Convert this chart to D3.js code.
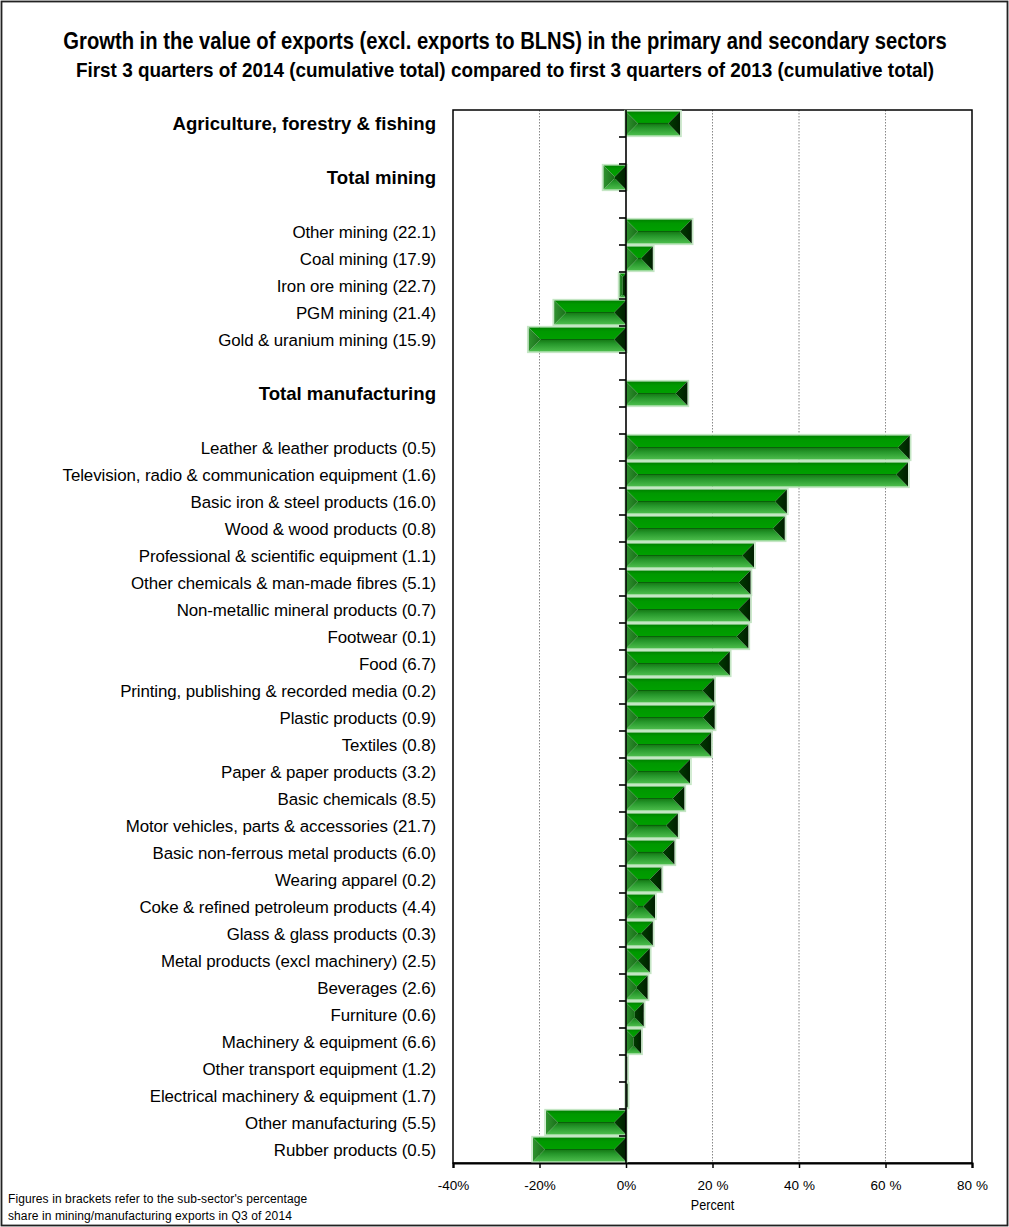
<!DOCTYPE html>
<html><head><meta charset="utf-8">
<script src="https://cdn.jsdelivr.net/npm/d3@7"></script>
<style>body{margin:0;background:#fff}</style>
</head><body><svg id="c" width="1009" height="1227"></svg>
<script>
// ---- data ----
const categories = [
  "Agriculture, forestry & fishing", "",
  "Total mining", "",
  "Other mining (22.1)", "Coal mining (17.9)", "Iron ore mining (22.7)", "PGM mining (21.4)", "Gold & uranium mining (15.9)", "",
  "Total manufacturing", "",
  "Leather & leather products (0.5)",
  "Television, radio & communication equipment (1.6)",
  "Basic iron & steel products (16.0)",
  "Wood & wood products (0.8)",
  "Professional & scientific equipment (1.1)",
  "Other chemicals & man-made fibres (5.1)",
  "Non-metallic mineral products (0.7)",
  "Footwear (0.1)",
  "Food (6.7)",
  "Printing, publishing & recorded media (0.2)",
  "Plastic products (0.9)",
  "Textiles (0.8)",
  "Paper & paper products (3.2)",
  "Basic chemicals (8.5)",
  "Motor vehicles, parts & accessories (21.7)",
  "Basic non-ferrous metal products (6.0)",
  "Wearing apparel (0.2)",
  "Coke & refined petroleum products (4.4)",
  "Glass & glass products (0.3)",
  "Metal products (excl machinery) (2.5)",
  "Beverages (2.6)",
  "Furniture (0.6)",
  "Machinery & equipment (6.6)",
  "Other transport equipment (1.2)",
  "Electrical machinery & equipment (1.7)",
  "Other manufacturing (5.5)",
  "Rubber products (0.5)"
];
const growth = [
  12.5, null,
  -5.2, null,
  15.2, 6.2, -1.5, -16.6, -22.5, null,
  14.2, null,
  65.6, 65.2, 37.2, 36.7, 29.6, 28.8, 28.7, 28.3, 24.0, 20.4, 20.5, 19.7,
  14.8, 13.5, 12.0, 11.2, 8.2, 6.7, 6.2, 5.5, 5.0, 4.1, 3.5, 0.3, 0.4,
  -18.5, -21.5
];
const boldCategories = ["Agriculture, forestry & fishing", "Total mining", "Total manufacturing"];
const xTickValues = [-40, -20, 0, 20, 40, 60, 80];
const xTickLabels = ["-40%", "-20%", "0%", "20 %", "40 %", "60 %", "80 %"];
const gridValues = [-20, 20, 40, 60];
const titleText = "Growth in the value of exports (excl. exports to BLNS) in the primary and secondary sectors";
const subtitleText = "First 3 quarters of 2014 (cumulative total) compared to first 3 quarters of 2013 (cumulative total)";
const xAxisTitle = "Percent";
const footnoteLines = ["Figures in brackets refer to the sub-sector's percentage", "share in mining/manufacturing exports in Q3 of 2014"];

// ---- layout ----
const W = 1009, H = 1227;
const plot = {left: 453, right: 972, top: 110, bottom: 1163};
const FONT = "'Liberation Sans',Arial,sans-serif";
const svg = d3.select("#c");
const keys = categories.map((c, i) => i + "|" + c);
const rows = keys.map((k, i) => ({key: k, label: categories[i], v: growth[i]}));

const x = d3.scaleLinear().domain([-40, 80]).range([plot.left, plot.right]);
const y = d3.scaleBand().domain(keys).range([plot.top, plot.bottom]).paddingInner(0.12).paddingOuter(0.06);

// outer border
svg.append("rect").attr("x", 1.5).attr("y", 1.5).attr("width", W - 3).attr("height", H - 3)
  .attr("fill", "#fff").attr("stroke", "#222").attr("stroke-width", 1.8);

// condensed text helper
function ctext(parent, tx, ty, sx, txt) {
  return parent.append("g").attr("transform", `translate(${tx},${ty}) scale(${sx},1)`)
    .append("text").attr("x", 0).attr("y", 0).attr("font-family", FONT).attr("fill", "#000").text(txt);
}

// titles
ctext(svg, 505, 49, 0.86, titleText).attr("text-anchor", "middle").attr("font-weight", "bold").attr("font-size", 23.5);
ctext(svg, 505, 77, 0.98, subtitleText).attr("text-anchor", "middle").attr("font-weight", "bold").attr("font-size", 19.3);

// gridlines
svg.append("g").selectAll("line").data(gridValues).join("line")
  .attr("x1", d => x(d)).attr("x2", d => x(d)).attr("y1", plot.top).attr("y2", plot.bottom)
  .attr("stroke", "#888").attr("stroke-width", 1).attr("stroke-dasharray", "1.5,1.5");

// plot frame
svg.append("rect").attr("x", plot.left).attr("y", plot.top)
  .attr("width", plot.right - plot.left).attr("height", plot.bottom - plot.top)
  .attr("fill", "none").attr("stroke", "#000").attr("stroke-width", 1.5);

// gradients
const defs = svg.append("defs");
function grad(id, stops, vertical) {
  const g = defs.append("linearGradient").attr("id", id)
    .attr("x1", 0).attr("y1", 0).attr("x2", vertical ? 0 : 1).attr("y2", vertical ? 1 : 0);
  stops.forEach(s => g.append("stop").attr("offset", s[0]).attr("stop-color", s[1]));
}
grad("gTop", [[0, "#008200"], [0.3, "#009800"], [1, "#00a000"]], true);
grad("gBot", [[0, "#147814"], [0.35, "#25962a"], [1, "#4cbd4c"]], true);
grad("gLeft", [[0, "#2f922f"], [1, "#187018"]], false);
grad("gRight", [[0, "#003c00"], [1, "#002000"]], false);

// bars with bevel
const barG = svg.append("g");
rows.filter(r => r.v !== null).forEach(r => {
  const x0 = Math.min(x(0), x(r.v)), x1 = Math.max(x(0), x(r.v));
  const y0 = y(r.key), y1 = y0 + y.bandwidth();
  const w = x1 - x0, h = y1 - y0;
  const d = Math.min(h / 2, w / 2);
  const g = barG.append("g");
  g.append("rect").attr("x", x0 - 1).attr("y", y0 - 1).attr("width", w + 2).attr("height", h + 2)
    .attr("fill", "none").attr("stroke", "#c4e6c4").attr("stroke-width", 1.5);
  const poly = pts => g.append("polygon").attr("points", pts.map(p => p.join(",")).join(" "));
  poly([[x0, y0], [x1, y0], [x1 - d, y0 + d], [x0 + d, y0 + d]]).attr("fill", "url(#gTop)");
  poly([[x0, y1], [x1, y1], [x1 - d, y1 - d], [x0 + d, y1 - d]]).attr("fill", "url(#gBot)");
  poly([[x0, y0], [x0 + d, y0 + d], [x0 + d, y1 - d], [x0, y1]]).attr("fill", "url(#gLeft)");
  poly([[x1, y0], [x1 - d, y0 + d], [x1 - d, y1 - d], [x1, y1]]).attr("fill", "url(#gRight)");
  if (w > h) {
    g.append("line").attr("x1", x0 + d).attr("x2", x1 - d).attr("y1", (y0 + y1) / 2).attr("y2", (y0 + y1) / 2)
      .attr("stroke", "#0b600b").attr("stroke-width", 1.2);
  }
});

// zero line with category ticks
svg.append("line").attr("x1", x(0)).attr("x2", x(0)).attr("y1", plot.top).attr("y2", plot.bottom)
  .attr("stroke", "#000").attr("stroke-width", 1.6);
svg.append("g").selectAll("line").data(keys.slice(1)).join("line")
  .attr("x1", x(0) - 7).attr("x2", x(0))
  .attr("y1", d => y(d) - y.step() * y.paddingInner() / 2).attr("y2", d => y(d) - y.step() * y.paddingInner() / 2)
  .attr("stroke", "#000").attr("stroke-width", 1.6);

// bottom axis
const xAxis = d3.axisBottom(x).tickValues(xTickValues).tickSize(5).tickPadding(12).tickFormat((d, i) => xTickLabels[i]);
const ax = svg.append("g").attr("transform", `translate(0,${plot.bottom})`).call(xAxis);
ax.select(".domain").attr("stroke", "#000").attr("stroke-width", 2.2);
ax.selectAll(".tick line").attr("stroke", "#000").attr("stroke-width", 1.5);
ax.selectAll(".tick text").attr("font-family", FONT).attr("font-size", 13.5).attr("fill", "#000");
ctext(svg, x(20), plot.bottom + 47, 0.9, xAxisTitle).attr("text-anchor", "middle").attr("font-size", 14);

// category labels
const labG = svg.append("g");
rows.filter(r => r.label !== "").forEach(r => {
  const bold = boldCategories.includes(r.label);
  labG.append("text").attr("x", 436).attr("y", y(r.key) + y.bandwidth() / 2).attr("dy", "0.36em")
    .attr("text-anchor", "end").attr("font-family", FONT)
    .attr("font-weight", bold ? "bold" : "normal").attr("font-size", bold ? 18.6 : 16.9)
    .attr("letter-spacing", bold ? 0 : -0.1)
    .attr("fill", "#000").text(r.label);
});

// footnote
svg.append("g").selectAll("text").data(footnoteLines).join("text")
  .attr("x", 8).attr("y", (d, i) => 1203 + i * 17)
  .attr("font-family", FONT).attr("font-size", 12).attr("letter-spacing", 0.1)
  .attr("fill", "#000").text(d => d);
</script></body></html>
